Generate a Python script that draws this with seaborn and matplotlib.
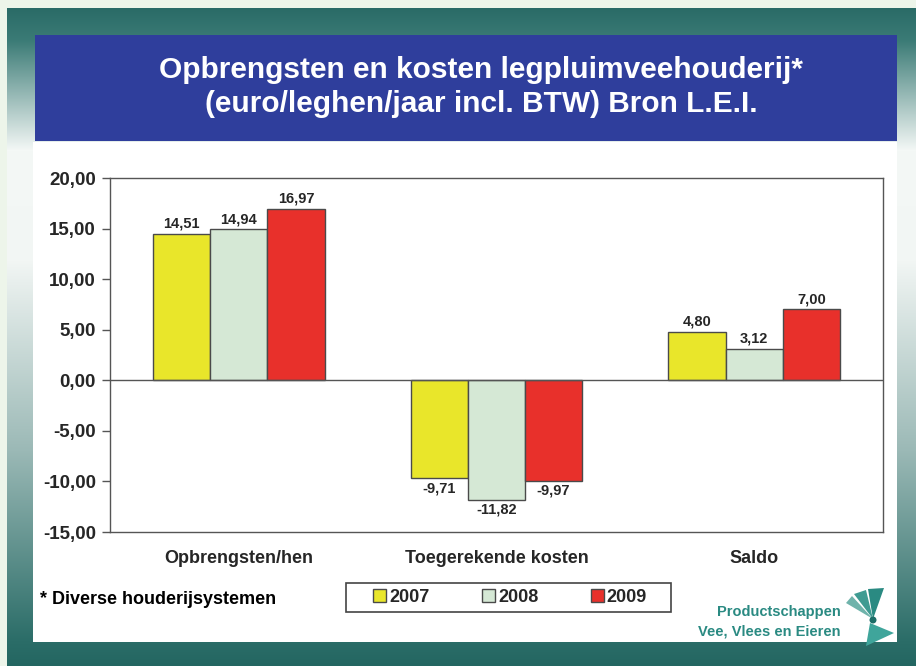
import numpy as np
import pandas as pd
import seaborn as sns
import matplotlib.pyplot as plt
from matplotlib.patches import Rectangle, Polygon, Patch, Circle
from matplotlib.colors import to_rgb
from matplotlib.ticker import FuncFormatter

# Data
categories = ["Opbrengsten/hen", "Toegerekende kosten", "Saldo"]
years = ["2007", "2008", "2009"]
v2007 = [14.51, -9.71, 4.80]
v2008 = [14.94, -11.82, 3.12]
v2009 = [16.97, -9.97, 7.00]
bar_colors = ["#e9e62a", "#d5e8d5", "#e8302b"]

df = pd.DataFrame({
    "cat": categories * 3,
    "year": [y for y in years for _ in categories],
    "val": v2007 + v2008 + v2009,
})

sns.set_style("white")
plt.rcParams["font.family"] = ["Liberation Sans", "DejaVu Sans"]
plt.rcParams["font.weight"] = "bold"

W, H = 916, 666
fig = plt.figure(figsize=(W / 100, H / 100), dpi=100)

# Slide background (gradient + panels), in pixel coordinates
bg = fig.add_axes([0, 0, 1, 1], zorder=-1)
stops_y = [0, 8, 40, 150, 260, 450, 640, 666]
stops_c = ["#edf5ea", "#2a6b67", "#3b7b76", "#f4f8f6", "#f2f6f4", "#9bb9b6", "#2b6d68", "#236661"]
rows = np.arange(H)
cols = np.array([to_rgb(c) for c in stops_c])
grad = np.stack([np.interp(rows, stops_y, cols[:, k]) for k in range(3)], axis=1)
img = np.repeat(grad[:, None, :], W, axis=1)
pale = np.array(to_rgb("#edf5ea"))
img[:, :7] = pale
img[:8, :] = pale
bg.imshow(img, extent=[0, W, H, 0], aspect="auto")
bg.set_xlim(0, W)
bg.set_ylim(H, 0)
bg.axis("off")

bg.add_patch(Rectangle((33, 142), 864, 500, facecolor="white", edgecolor="none"))
bg.add_patch(Rectangle((35, 35), 862, 106, facecolor="#2f3e9c", edgecolor="none"))
bg.text(481, 70, "Opbrengsten en kosten legpluimveehouderij*", color="white",
        fontsize=21.5, fontweight="bold", ha="center", va="center")
bg.text(481, 104, "(euro/leghen/jaar incl. BTW) Bron L.E.I.", color="white",
        fontsize=21.5, fontweight="bold", ha="center", va="center")
bg.text(40, 599, "* Diverse houderijsystemen", fontsize=13, fontweight="bold",
        ha="left", va="center", color="black")

# legend box
bg.add_patch(Rectangle((346, 583), 325, 29, facecolor="white", edgecolor="#444444", lw=1.2))

# Logo
teal = "#2a8a82"
bg.text(841, 612, "Productschappen", fontsize=10.5, fontweight="bold", color=teal,
        ha="right", va="center")
bg.text(841, 631, "Vee, Vlees en Eieren", fontsize=10.5, fontweight="bold", color=teal,
        ha="right", va="center")
bg.add_patch(Polygon([(873, 619), (846, 603), (852, 596)], closed=True, facecolor="#6fb3ab", edgecolor="none"))
bg.add_patch(Polygon([(873, 619), (854, 594), (866, 590)], closed=True, facecolor="#3f9b92", edgecolor="none"))
bg.add_patch(Polygon([(873, 619), (868, 589), (884, 588)], closed=True, facecolor="#2a8a82", edgecolor="none"))
bg.add_patch(Polygon([(870, 623), (894, 633), (866, 646)], closed=True, facecolor="#3fa59b", edgecolor="none"))
bg.add_patch(Circle((873, 620), 3.5, facecolor="#1d6e68", edgecolor="none"))

# Chart
ax = fig.add_axes([110 / W, 1 - 532 / H, (883 - 110) / W, (532 - 178) / H])
sns.barplot(data=df, x="cat", y="val", hue="year", palette=bar_colors,
            edgecolor="#4a4a4a", linewidth=1, width=0.665, saturation=1,
            ax=ax, legend=False)

ax.set_ylim(-15, 20)
ax.set_xlim(-0.5, 2.5)
ax.set_yticks(np.arange(-15, 21, 5))
ax.yaxis.set_major_formatter(FuncFormatter(lambda v, p: f"{v:.2f}".replace(".", ",")))
ax.axhline(0, color="#555555", lw=1, zorder=3)
ax.set_xlabel("")
ax.set_ylabel("")
for s in ax.spines.values():
    s.set_visible(True)
    s.set_color("#555555")
    s.set_linewidth(1)
ax.tick_params(axis="y", direction="out", length=6, width=1, color="#555555",
               labelsize=13.5, pad=4, left=True)
ax.tick_params(axis="x", length=0, labelsize=13, pad=13)
for lab in ax.get_xticklabels() + ax.get_yticklabels():
    lab.set_fontweight("bold")

for cont, vals in zip(ax.containers, [v2007, v2008, v2009]):
    ax.bar_label(cont, labels=[f"{v:.2f}".replace(".", ",") for v in vals],
                 padding=2, fontsize=10.5, fontweight="bold")

handles = [Patch(facecolor=c, edgecolor="#4a4a4a", linewidth=1) for c in bar_colors]
leg = fig.legend(handles, years, loc="center", bbox_to_anchor=(510 / W, 1 - 597.5 / H),
                 ncol=3, frameon=False, handlelength=0.75, handleheight=0.75,
                 handletextpad=0.15, columnspacing=2.9,
                 prop={"size": 13, "weight": "bold"})

fig.savefig("out.png", dpi=100)
